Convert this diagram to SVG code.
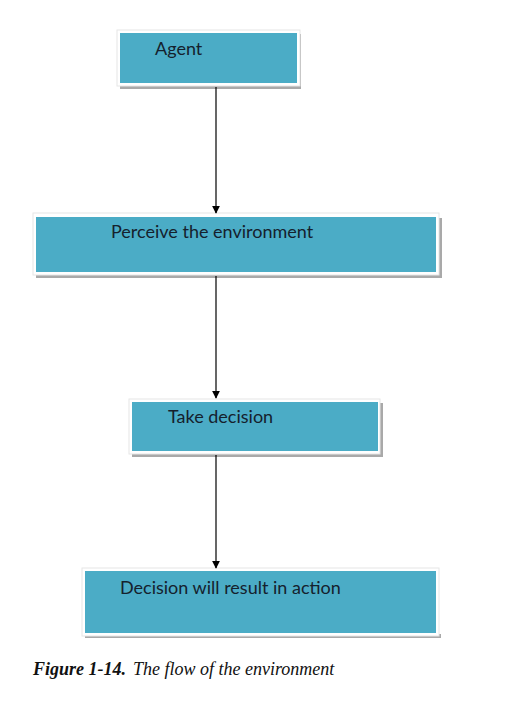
<svg xmlns="http://www.w3.org/2000/svg" width="522" height="704" viewBox="0 0 522 704">
<defs>
<style>
.frame{fill:#ffffff;stroke:#e6e6e6;stroke-width:1}
.shadow{fill:#a9a9a9}
.box{fill:#4bacc6}
.lbl{font-family:Lato,"Open Sans","Liberation Sans",sans-serif;font-size:18px;fill:#15212d}
.conn{stroke:#000;stroke-width:1.2;fill:none}
.cap{font-family:"Liberation Serif",serif;font-size:18px;font-style:italic;fill:#111}
</style>
<marker id="arr" viewBox="0 0 10 10" refX="9" refY="5" markerWidth="8" markerHeight="8" markerUnits="userSpaceOnUse" orient="auto">
<path d="M0,0 L10,5 L0,10 z" fill="#000"/>
</marker>
</defs>
<rect width="522" height="704" fill="#ffffff"/>
<g id="agent">
<rect class="shadow" x="120" y="84" width="181" height="5"/>
<rect class="shadow" x="298" y="34" width="3" height="55"/>
<rect class="frame" x="117" y="30" width="183" height="56"/>
<rect class="box" x="120" y="33" width="177" height="50"/>
<text class="lbl" x="155" y="55">Agent</text>
</g>
<g id="perceive">
<rect class="shadow" x="36" y="273" width="406" height="5"/>
<rect class="shadow" x="438" y="218" width="4" height="60"/>
<rect class="frame" x="33" y="213" width="406" height="62"/>
<rect class="box" x="36" y="217" width="400" height="55"/>
<text class="lbl" x="111" y="238">Perceive the environment</text>
</g>
<g id="take">
<rect class="shadow" x="132" y="452" width="251" height="5"/>
<rect class="shadow" x="379" y="403" width="4" height="54"/>
<rect class="frame" x="129" y="399" width="251" height="55"/>
<rect class="box" x="132" y="402" width="246" height="49"/>
<text class="lbl" x="168" y="423">Take decision</text>
</g>
<g id="action">
<rect class="shadow" x="85" y="634" width="356" height="4"/>
<rect class="frame" x="82" y="568" width="357" height="68"/>
<rect class="box" x="85" y="571" width="351" height="62"/>
<text class="lbl" x="120" y="594">Decision will result in action</text>
</g>
<g id="connectors">
<line class="conn" x1="216" y1="87" x2="216" y2="213" marker-end="url(#arr)"/>
<line class="conn" x1="216" y1="276" x2="216" y2="398" marker-end="url(#arr)"/>
<line class="conn" x1="216" y1="455" x2="216" y2="568" marker-end="url(#arr)"/>
</g>
<g id="caption">
<text class="cap" x="33" y="675"><tspan font-weight="bold">Figure 1-14.</tspan><tspan x="133">The flow of the environment</tspan></text>
</g>
</svg>
